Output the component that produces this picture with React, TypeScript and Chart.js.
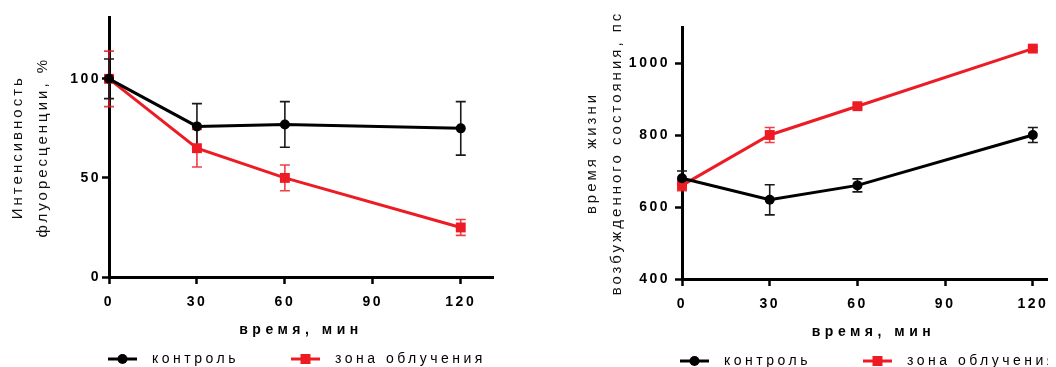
import React, { useEffect, useRef } from 'react';
import { Chart, registerables } from 'chart.js';

Chart.register(...registerables);

// ---------- data ----------
const times = [0, 30, 60, 120];
const xTickValues = [0, 30, 60, 90, 120];
const seriesNames = ['контроль', 'зона облучения'];

const intensityControl = [100, 76, 77, 75];
const intensityControlErr = [10, 11.5, 11.5, 13.5];
const intensityIrradiated = [100, 65, 50, 25];
const intensityIrradiatedErr = [14, 9.5, 6.5, 4];
const intensityTicks = [0, 50, 100];

const lifetimeControl = [680, 620, 660, 800];
const lifetimeControlErr = [20, 42, 18, 21];
const lifetimeIrradiated = [660, 800, 880, 1040];
const lifetimeIrradiatedErr = [15, 21, 6, 5];
const lifetimeTicks = [400, 600, 800, 1000];

const xTitle = 'время, мин';
const intensityTitle = ['Интенсивность', 'флуоресценции, %'];
const lifetimeTitle = ['время жизни', 'возбужденного состояния, пс'];

// ---------- styles ----------
const FONT = 'Arial, "Liberation Sans", sans-serif';
const BLACK = '#000000';
const RED = '#ed1c24';
const RED_ERR = 'rgba(237,28,36,0.85)';

function legendMarker(color: string, style: 'circle' | 'rect') {
  const c = document.createElement('canvas');
  c.width = 89;
  c.height = 14;
  const g = c.getContext('2d')!;
  g.strokeStyle = color;
  g.lineWidth = 3;
  g.beginPath();
  g.moveTo(52, 7);
  g.lineTo(81, 7);
  g.stroke();
  g.fillStyle = color;
  if (style === 'circle') {
    g.beginPath();
    g.arc(66.5, 7, 5, 0, Math.PI * 2);
    g.fill();
  } else {
    g.fillRect(61.5, 2, 10, 10);
  }
  return c;
}

const errorBarPlugin = {
  id: 'errorBars',
  beforeDatasetsDraw(chart: any) {
    const ctx = chart.ctx;
    const xs = chart.scales.x;
    const ys = chart.scales.y;
    const idx = chart.data.datasets.map((_: any, i: number) => i).reverse();
    for (const i of idx) {
      const ds: any = chart.data.datasets[i];
      if (!ds.errors) continue;
      ctx.save();
      ctx.strokeStyle = ds.errorColor;
      ctx.lineWidth = 1.6;
      ds.data.forEach((p: any, j: number) => {
        const e = ds.errors[j];
        const px = xs.getPixelForValue(p.x);
        const top = ys.getPixelForValue(p.y + e);
        const bot = ys.getPixelForValue(p.y - e);
        ctx.beginPath();
        ctx.moveTo(px, top);
        ctx.lineTo(px, bot);
        ctx.moveTo(px - 5, top);
        ctx.lineTo(px + 5, top);
        ctx.moveTo(px - 5, bot);
        ctx.lineTo(px + 5, bot);
        ctx.stroke();
      });
      ctx.restore();
    }
  },
};

function spacingPlugin(sp: { base: string; ticks: string; titles: Record<string, string> }) {
  return {
    id: 'letterSpacing',
    beforeLayout(chart: any) {
      chart.ctx.letterSpacing = sp.base;
    },
    beforeDraw(chart: any) {
      chart.ctx.letterSpacing = sp.base;
      Object.values(chart.scales).forEach((s: any) => {
        if (s.__lsPatched) return;
        s.__lsPatched = true;
        const dt = s.drawTitle;
        const dl = s.drawLabels;
        s._computeLabelArea = () => undefined;
        s.drawTitle = function (...a: any[]) {
          const c = this.ctx;
          const prev = c.letterSpacing;
          c.letterSpacing = sp.titles[this.id] || sp.base;
          dt.apply(this, a);
          c.letterSpacing = prev;
        };
        s.drawLabels = function (...a: any[]) {
          const c = this.ctx;
          const prev = c.letterSpacing;
          c.letterSpacing = sp.ticks;
          dl.apply(this, a);
          c.letterSpacing = prev;
        };
      });
    },
  };
}

type PanelOpts = {
  control: number[];
  controlErr: number[];
  irr: number[];
  irrErr: number[];
  yMin: number;
  yMax: number;
  yTicks: number[];
  yTitle: string[];
  padLeft: number;
  padTop: number;
  yAxisWidth: number;
  rightSpacer: number;
  yTitleShift: number;
  yTickPad: number;
};

function buildConfig(o: PanelOpts): any {
  const markers = [legendMarker(BLACK, 'circle'), legendMarker(RED, 'rect')];
  return {
    type: 'line',
    data: {
      datasets: [
        {
          label: seriesNames[0],
          data: times.map((t, i) => ({ x: t, y: o.control[i] })),
          errors: o.controlErr,
          errorColor: '#1a1a1a',
          borderColor: BLACK,
          backgroundColor: BLACK,
          borderWidth: 3,
          pointStyle: 'circle',
          pointRadius: 5,
          pointBackgroundColor: BLACK,
          pointBorderColor: BLACK,
          pointBorderWidth: 0,
          tension: 0,
          clip: false,
        },
        {
          label: seriesNames[1],
          data: times.map((t, i) => ({ x: t, y: o.irr[i] })),
          errors: o.irrErr,
          errorColor: RED_ERR,
          borderColor: RED,
          backgroundColor: RED,
          borderWidth: 3,
          pointStyle: 'rect',
          pointRadius: 7,
          pointBackgroundColor: RED,
          pointBorderColor: RED,
          pointBorderWidth: 0,
          tension: 0,
          clip: false,
        },
      ],
    },
    options: {
      responsive: false,
      animation: false,
      devicePixelRatio: 1,
      events: [],
      layout: { padding: { left: o.padLeft, top: o.padTop, right: 0, bottom: 0 } },
      scales: {
        x: {
          type: 'linear',
          min: 0,
          max: 131,
          afterBuildTicks: (s: any) => {
            s.ticks = xTickValues.map((v) => ({ value: v }));
          },
          border: { display: true, color: BLACK, width: 3 },
          grid: {
            display: true,
            drawOnChartArea: false,
            drawTicks: true,
            tickLength: 7,
            tickWidth: 2.5,
            tickColor: BLACK,
            color: BLACK,
          },
          ticks: {
            autoSkip: false,
            maxRotation: 0,
            padding: 10,
            color: BLACK,
            font: { family: FONT, size: 14, weight: 'bold' },
            callback: (v: any) => String(v),
          },
          title: {
            display: true,
            text: xTitle,
            color: BLACK,
            font: { family: FONT, size: 14, weight: 'bold' },
            padding: { top: 0.8, bottom: 13.6 },
          },
        },
        y: {
          type: 'linear',
          min: o.yMin,
          max: o.yMax,
          afterBuildTicks: (s: any) => {
            s.ticks = o.yTicks.map((v) => ({ value: v }));
          },
          afterFit: (s: any) => {
            s.width = o.yAxisWidth;
          },
          border: { display: true, color: BLACK, width: 3 },
          grid: {
            display: true,
            drawOnChartArea: false,
            drawTicks: true,
            tickLength: 7,
            tickWidth: 2.5,
            tickColor: BLACK,
            color: BLACK,
          },
          ticks: {
            padding: o.yTickPad,
            color: BLACK,
            font: { family: FONT, size: 14, weight: 'bold' },
            callback: (v: any) => String(v),
          },
          title: {
            display: true,
            text: o.yTitle,
            color: '#111111',
            font: { family: FONT, size: 15, weight: 'normal', lineHeight: 1.68 },
            padding: { top: o.yTitleShift, bottom: 0 },
          },
        },
        spacer: {
          type: 'linear',
          position: 'right',
          display: true,
          border: { display: false },
          grid: { display: false },
          ticks: { display: false },
          title: { display: false },
          afterFit: (s: any) => {
            s.width = o.rightSpacer;
          },
        },
      },
      plugins: {
        tooltip: { enabled: false },
        legend: {
          display: true,
          position: 'bottom',
          align: 'start',
          labels: {
            usePointStyle: true,
            pointStyleWidth: 89,
            padding: 0,
            color: BLACK,
            font: { family: FONT, size: 14, weight: 'normal' },
            generateLabels: () =>
              seriesNames.map((name, i) => ({
                text: name,
                pointStyle: markers[i],
                fillStyle: 'rgba(0,0,0,0)',
                strokeStyle: 'rgba(0,0,0,0)',
                lineWidth: 0,
                hidden: false,
                datasetIndex: i,
                fontColor: BLACK,
              })),
          },
        },
      },
    },
    plugins: [
      errorBarPlugin,
      spacingPlugin({ base: '3.5px', ticks: '2.5px', titles: { x: '4.5px', y: '3px' } }),
    ],
  };
}

function ChartPanel(props: { opts: PanelOpts; width: number; height: number; left: number }) {
  const ref = useRef<HTMLCanvasElement>(null);
  useEffect(() => {
    const chart = new Chart(ref.current as HTMLCanvasElement, buildConfig(props.opts));
    return () => chart.destroy();
  }, []);
  return (
    <canvas
      ref={ref}
      width={props.width}
      height={props.height}
      style={{ position: 'absolute', left: props.left, top: 0, width: props.width, height: props.height }}
    />
  );
}

const leftOpts: PanelOpts = {
  control: intensityControl,
  controlErr: intensityControlErr,
  irr: intensityIrradiated,
  irrErr: intensityIrradiatedErr,
  yMin: 0,
  yMax: 131,
  yTicks: intensityTicks,
  yTitle: intensityTitle,
  padLeft: 48,
  padTop: 9,
  yAxisWidth: 53,
  rightSpacer: 47,
  yTitleShift: -50.6,
  yTickPad: 1,
};

const rightOpts: PanelOpts = {
  control: lifetimeControl,
  controlErr: lifetimeControlErr,
  irr: lifetimeIrradiated,
  irrErr: lifetimeIrradiatedErr,
  yMin: 400,
  yMax: 1100,
  yTicks: lifetimeTicks,
  yTitle: lifetimeTitle,
  padLeft: 88,
  padTop: 19,
  yAxisWidth: 54,
  rightSpacer: 35,
  yTitleShift: -48.6,
  yTickPad: 5,
};

export default function App() {
  return (
    <div style={{ position: 'relative', width: 1048, height: 359, overflow: 'hidden', background: '#fff' }}>
      <ChartPanel opts={leftOpts} width={532} height={368} left={0} />
      <ChartPanel opts={rightOpts} width={560} height={370} left={532} />
    </div>
  );
}
